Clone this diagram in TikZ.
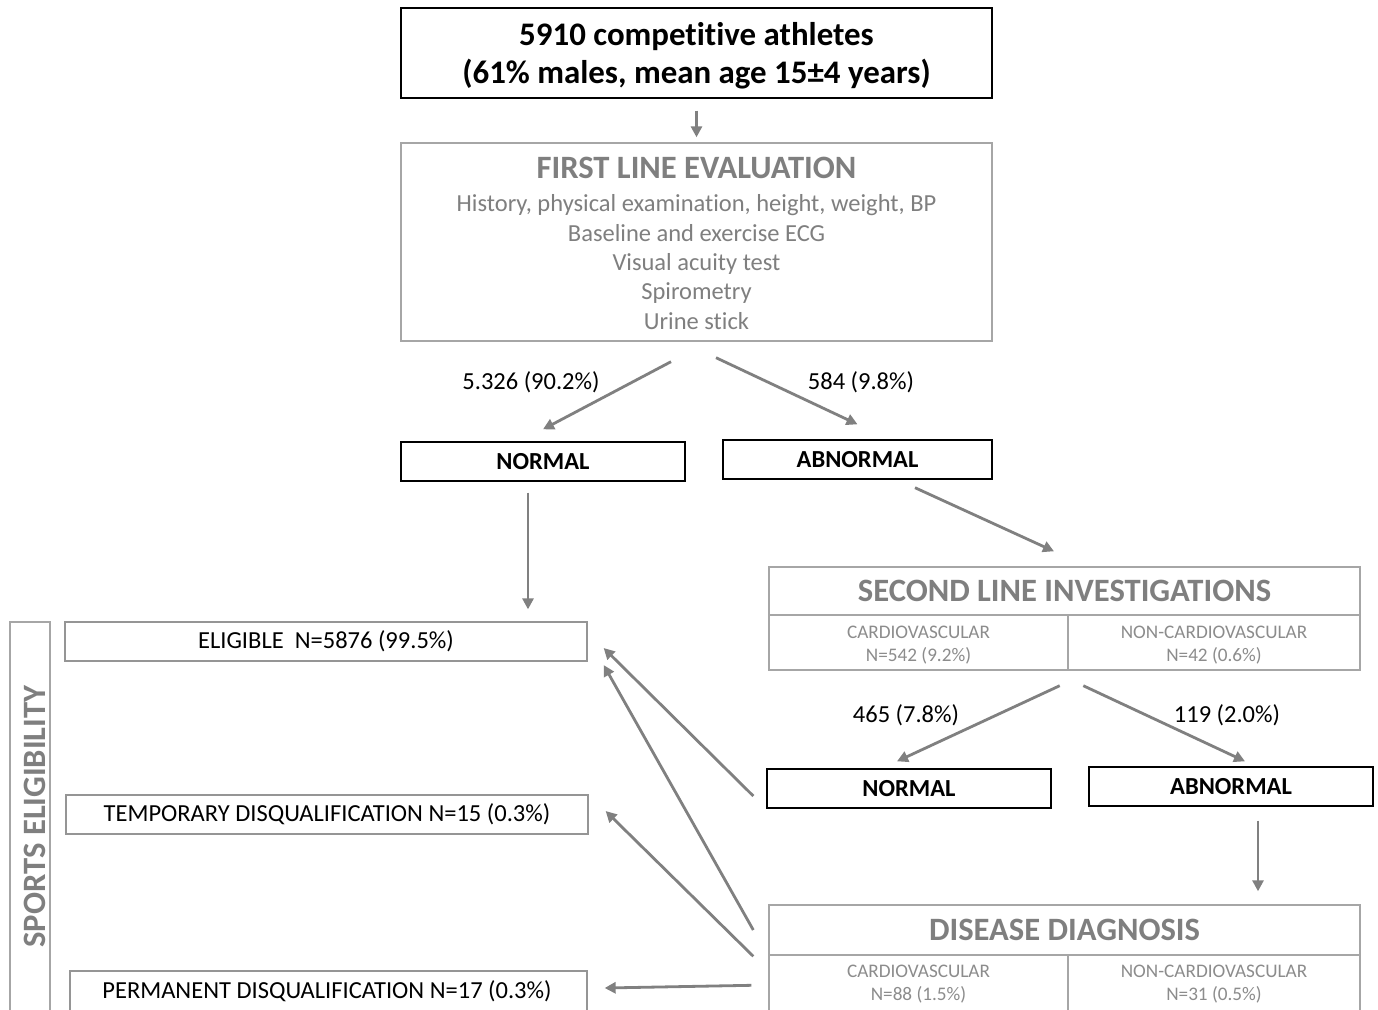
\documentclass[tikz,border=0pt]{standalone}
\usepackage{fontspec}
\setmainfont{Carlito}[Ligatures=NoCommon]
\usetikzlibrary{arrows.meta,calc}
\definecolor{txtgray}{HTML}{7F7F7F}
\definecolor{subgray}{HTML}{8C8C8C}
\definecolor{boxgray}{HTML}{A6A6A6}
\definecolor{arrgray}{HTML}{808080}
\begin{document}
\begin{tikzpicture}[x=1pt,y=-1pt,
  blackbox/.style={draw=black, line width=1.4pt, inner sep=0pt},
  graybox/.style={draw=boxgray, line width=1.4pt, inner sep=0pt},
  elbox/.style={draw=boxgray!90!black, line width=1.3pt, inner sep=0pt},
  btxt/.style={font=\fontsize{24.5}{28}\selectfont\bfseries},
  htxt/.style={font=\fontsize{32.6}{36}\selectfont\bfseries, text=txtgray},
  subtxt/.style={align=center, font=\fontsize{19.2}{23}\selectfont, text=subgray, inner sep=0pt},
  lbl/.style={font=\fontsize{24.5}{28}\selectfont},
  eltxt/.style={font=\fontsize{24.5}{28}\selectfont},
  arr/.style={draw=arrgray, line width=2.8pt, -{Triangle[length=11pt,width=11pt]}}]
\clip (0,0) rectangle (1378,1009);
\fill[white] (0,0) rectangle (1378,1009);

% top box
\node[blackbox, minimum width=591, minimum height=90] (top) at (696.5,53) {};
\node[align=center, inner sep=0pt, font=\fontsize{32.9}{38}\selectfont\bfseries] (topT) at (696.5,55.5)
  {5910 competitive athletes\\(61\% males, mean age 15±4 years)};

% first line evaluation
\node[graybox, minimum width=591, minimum height=198] (fle) at (696.5,242) {};
\node[htxt] (fleT) at (696.5,168) {FIRST LINE EVALUATION};
\node[align=center, font=\fontsize{24.5}{29.3}\selectfont, text=txtgray, inner sep=0pt] (fleL) at (696.5,262)
  {History, physical examination, height, weight, BP\\Baseline and exercise ECG\\Visual acuity test\\Spirometry\\Urine stick};

% first split
\node[blackbox, minimum width=284, minimum height=39, btxt] (n1) at (543,461.5) {NORMAL};
\node[blackbox, minimum width=269, minimum height=39, btxt] (n2) at (857.5,459.5) {ABNORMAL};
\node[lbl] (l1) at (531,382.5) {5.326 (90.2\%)};
\node[lbl] (l2) at (861,382.5) {584 (9.8\%)};

% second line
\node[graybox, minimum width=591, minimum height=48, htxt] (slh) at (1064.5,591) {SECOND LINE INVESTIGATIONS};
\node[graybox, minimum width=299, minimum height=55] (slc) at (918.5,642.5) {};
\node[graybox, minimum width=292, minimum height=55] (sln) at (1214,642.5) {};
\node[subtxt] (slcT) at (918.5,645.5) {CARDIOVASCULAR\\N=542 (9.2\%)};
\node[subtxt] (slnT) at (1214,645.5) {NON-CARDIOVASCULAR\\N=42 (0.6\%)};

\node[lbl] (l3) at (906,715.5) {465 (7.8\%)};
\node[lbl] (l4) at (1227,715.5) {119 (2.0\%)};
\node[blackbox, minimum width=284, minimum height=39, btxt] (m1) at (909,788.5) {NORMAL};
\node[blackbox, minimum width=284, minimum height=39, btxt] (m2) at (1231,786.5) {ABNORMAL};

% disease diagnosis
\node[graybox, minimum width=591, minimum height=50, htxt] (ddh) at (1064.5,930) {DISEASE DIAGNOSIS};
\node[graybox, minimum width=299, minimum height=65] (ddc) at (918.5,987.5) {};
\node[graybox, minimum width=292, minimum height=65] (ddn) at (1214,987.5) {};
\node[subtxt] (ddcT) at (918.5,984.5) {CARDIOVASCULAR\\N=88 (1.5\%)};
\node[subtxt] (ddnT) at (1214,984.5) {NON-CARDIOVASCULAR\\N=31 (0.5\%)};

% sports eligibility
\node[graybox, minimum width=40, minimum height=398] (se) at (30,821) {};
\node[htxt, rotate=90] (seT) at (35,816.5) {SPORTS ELIGIBILITY};
\node[elbox, minimum width=522, minimum height=39, eltxt] (el) at (326,641.5) {ELIGIBLE\ \ N=5876 (99.5\%)};
\node[elbox, minimum width=522, minimum height=39, eltxt] (tmp) at (327,814.5) {TEMPORARY DISQUALIFICATION N=15 (0.3\%)};
\node[elbox, minimum width=517, minimum height=49] (perm) at (328.5,995.5) {};
\node[eltxt] (permT) at (327,991) {PERMANENT DISQUALIFICATION N=17 (0.3\%)};

% connectors
\draw[arr] ([yshift=-12pt]top.south) -- ([yshift=5pt]fle.north);
\draw[arr] ([xshift=-25.5pt,yshift=-20pt]fle.south) -- ([yshift=12pt]n1.north);
\draw[arr] ([xshift=19.5pt,yshift=-16pt]fle.south) -- ([yshift=15pt]n2.north);
\draw[arr] ([xshift=-15pt,yshift=-11pt]n1.south) -- ([xshift=202pt,yshift=12pt]el.north);
\draw[arr] ([xshift=57.5pt,yshift=-8pt]n2.south) -- ([xshift=-10.5pt,yshift=15pt]slh.north);
\draw[arr] ([xshift=-9pt,yshift=-15pt]slc.south east) -- ([xshift=-12pt,yshift=7pt]m1.north);
\draw[arr] ([xshift=16pt,yshift=-15pt]sln.south west) -- ([xshift=14pt,yshift=5pt]m2.north);
\draw[arr] ([xshift=27pt,yshift=-14pt]m2.south) -- ([xshift=193.5pt,yshift=13pt]ddh.north);
\draw[arr] ([xshift=-13pt,yshift=-7.5pt]m1.west) -- ([xshift=16pt,yshift=-6.5pt]el.east);
\draw[arr] ([xshift=-15pt]ddh.west) -- ([xshift=16pt,yshift=-23.5pt]el.east);
\draw[arr] ([xshift=-15pt,yshift=-2pt]ddc.north west) -- ([xshift=17pt,yshift=3.5pt]tmp.east);
\draw[arr] ([xshift=-17pt,yshift=-31pt]ddc.north west) -- ([xshift=17pt,yshift=7.5pt]perm.east);
\end{tikzpicture}
\end{document}
